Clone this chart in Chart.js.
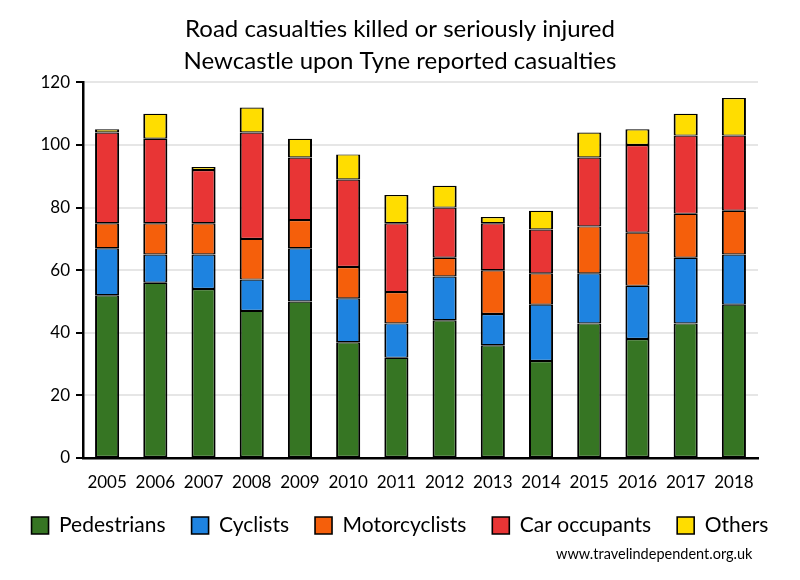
<!DOCTYPE html>
<html>
<head>
<meta charset="utf-8">
<script src="https://cdn.jsdelivr.net/npm/chart.js@4"></script>
<style>
  html, body { margin: 0; padding: 0; background: #fff; }
  #wrap { position: relative; width: 800px; height: 580px; }
  #credit { position: absolute; left: 556px; top: 545px; font-family: Lato, sans-serif; font-size: 14.5px; color: #000; }
</style>
</head>
<body>
<div id="wrap">
  <canvas id="c" width="800" height="580"></canvas>
  <div id="credit">www.travelindependent.org.uk</div>
</div>
<script>
const years = ['2005','2006','2007','2008','2009','2010','2011','2012','2013','2014','2015','2016','2017','2018'];
const pedestrians   = [52, 56, 54, 47, 50, 37, 32, 44, 36, 31, 43, 38, 43, 49];
const cyclists      = [15,  9, 11, 10, 17, 14, 11, 14, 10, 18, 16, 17, 21, 16];
const motorcyclists = [ 8, 10, 10, 13,  9, 10, 10,  6, 14, 10, 15, 17, 14, 14];
const carOccupants  = [29, 27, 17, 34, 20, 28, 22, 16, 15, 14, 22, 28, 25, 24];
const others        = [ 1,  8,  1,  8,  6,  8,  9,  7,  2,  6,  8,  5,  7, 12];
const yTicks = [0, 20, 40, 60, 80, 100, 120];

const FONT = 'Lato, "Open Sans", sans-serif';
const mk = (label, data, color) => ({
  label, data, backgroundColor: color, borderColor: '#000',
  borderWidth: { left: 2, right: 2, top: 1.2, bottom: 1.2 },
  barPercentage: 0.5, categoryPercentage: 1.0, borderSkipped: false
});

const legendShift = {
  id: 'legendShift',
  afterLayout(chart) {
    if (chart.legend) { chart.legend.top -= 5; chart.legend.bottom -= 5; }
  }
};

new Chart(document.getElementById('c'), {
  type: 'bar',
  data: {
    labels: years,
    datasets: [
      mk('Pedestrians', pedestrians, '#367523'),
      mk('Cyclists', cyclists, '#1E83E0'),
      mk('Motorcyclists', motorcyclists, '#F55F0B'),
      mk('Car occupants', carOccupants, '#E83535'),
      mk('Others', others, '#FFDD00')
    ]
  },
  plugins: [legendShift],
  options: {
    responsive: false,
    animation: false,
    layout: { padding: { left: 0, right: 0, top: 14, bottom: 29 } },
    plugins: {
      title: {
        display: true,
        text: ['Road casualties killed or seriously injured', 'Newcastle upon Tyne reported casualties'],
        color: '#000',
        font: { family: FONT, size: 24, weight: 'normal', lineHeight: 1.3 },
        padding: { top: 0, bottom: 6 }
      },
      legend: {
        position: 'bottom',
        labels: {
          color: '#000',
          font: { family: FONT, size: 21 },
          boxWidth: 17, boxHeight: 17, padding: 26,
          useBorderRadius: false
        }
      },
      tooltip: { enabled: false }
    },
    scales: {
      x: {
        stacked: true,
        afterFit: (ax) => { ax.height = 36; },
        grid: { display: false, drawTicks: false },
        border: { display: true, color: '#000', width: 2.5 },
        ticks: { color: '#000', font: { family: FONT, size: 17 }, padding: 14 }
      },
      y: {
        stacked: true,
        min: 0, max: 120,
        afterBuildTicks: (ax) => { ax.ticks = yTicks.map(v => ({ value: v })); },
        afterFit: (ax) => { ax.width = 83; },
        grid: { color: '#e6e6e6', lineWidth: 2, tickColor: '#000', tickLength: 7, tickWidth: 2 },
        border: { display: true, color: '#000', width: 2.5 },
        ticks: { color: '#000', font: { family: FONT, size: 17 }, padding: 6 }
      },
      yRight: {
        position: 'right',
        min: 0, max: 120,
        afterFit: (ax) => { ax.width = 42; },
        grid: { display: false, drawTicks: false },
        border: { display: false },
        ticks: { display: false }
      }
    }
  }
});
</script>
</body>
</html>
